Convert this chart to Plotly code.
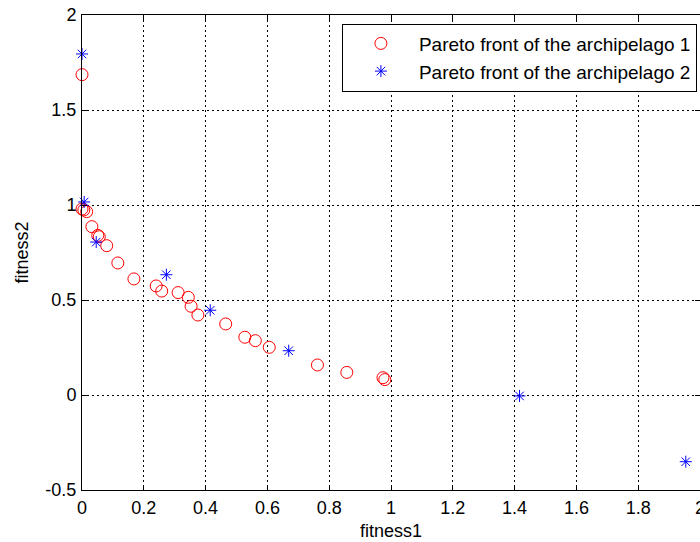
import plotly.graph_objects as go

# Pareto front of archipelago 1 (red open circles)
arch1_x = [0.000, 0.000, 0.006, 0.015, 0.032, 0.051, 0.056, 0.080, 0.116, 0.168,
           0.240, 0.258, 0.311, 0.344, 0.353, 0.375, 0.465, 0.527, 0.561, 0.606,
           0.762, 0.857, 0.974, 0.980]
arch1_y = [1.686, 0.979, 0.974, 0.965, 0.886, 0.840, 0.833, 0.786, 0.695, 0.611,
           0.574, 0.547, 0.539, 0.514, 0.467, 0.421, 0.374, 0.304, 0.286, 0.251,
           0.158, 0.119, 0.091, 0.081]

# Pareto front of archipelago 2 (blue asterisks)
arch2_x = [0.000, 0.007, 0.046, 0.273, 0.415, 0.669, 1.416, 1.954]
arch2_y = [1.795, 1.016, 0.805, 0.633, 0.446, 0.233, -0.005, -0.351]

x_tickvals = [0, 0.2, 0.4, 0.6, 0.8, 1, 1.2, 1.4, 1.6, 1.8, 2]
x_ticktext = ["0", "0.2", "0.4", "0.6", "0.8", "1", "1.2", "1.4", "1.6", "1.8", "2"]
y_tickvals = [-0.5, 0, 0.5, 1, 1.5, 2]
y_ticktext = ["-0.5", "0", "0.5", "1", "1.5", "2"]

FONT = "Liberation Sans, Arial, sans-serif"

fig = go.Figure()
fig.add_trace(go.Scatter(
    x=arch1_x, y=arch1_y, mode="markers",
    name="Pareto front of the archipelago 1",
    marker=dict(symbol="circle-open", size=12, color="#ff0000",
                line=dict(width=1, color="#ff0000")),
    cliponaxis=False,
))
fig.add_trace(go.Scatter(
    x=arch2_x, y=arch2_y, mode="markers",
    name="Pareto front of the archipelago 2",
    marker=dict(symbol="asterisk-open", size=10, color="#0000ff",
                line=dict(width=1, color="#0000ff")),
    cliponaxis=False,
))

axis_common = dict(
    showline=True, linecolor="black", linewidth=1, mirror="ticks",
    ticks="inside", ticklen=5, tickcolor="black",
    showgrid=True, gridcolor="black", gridwidth=1, griddash="2px,3px",
    zeroline=False, automargin=False, ticklabeloverflow="allow",
    tickfont=dict(family=FONT, size=18, color="black"),
)

fig.update_layout(
    template="none",
    width=700, height=542,
    margin=dict(l=82, r=0, t=15, b=52),
    paper_bgcolor="white", plot_bgcolor="white",
    font=dict(family=FONT, size=18, color="black"),
    xaxis=dict(range=[0, 2], tickvals=x_tickvals, ticktext=x_ticktext,
               ticklabelstandoff=1,
               title=dict(text="fitness1", font=dict(family=FONT, size=18), standoff=7),
               **axis_common),
    yaxis=dict(range=[-0.5, 2], tickvals=y_tickvals, ticktext=y_ticktext,
               ticklabelstandoff=1,
               title=dict(text="fitness2", font=dict(family=FONT, size=18), standoff=12),
               **axis_common),
    legend=dict(x=0.995, xanchor="right", y=0.982, yanchor="top",
                bgcolor="white", bordercolor="black", borderwidth=1,
                font=dict(family=FONT, size=19, color="black"),
                traceorder="normal", itemwidth=66),
    showlegend=True,
)

fig.write_html("out.html", config={"displayModeBar": False},
               post_script="document.body.style.margin='0px';")
